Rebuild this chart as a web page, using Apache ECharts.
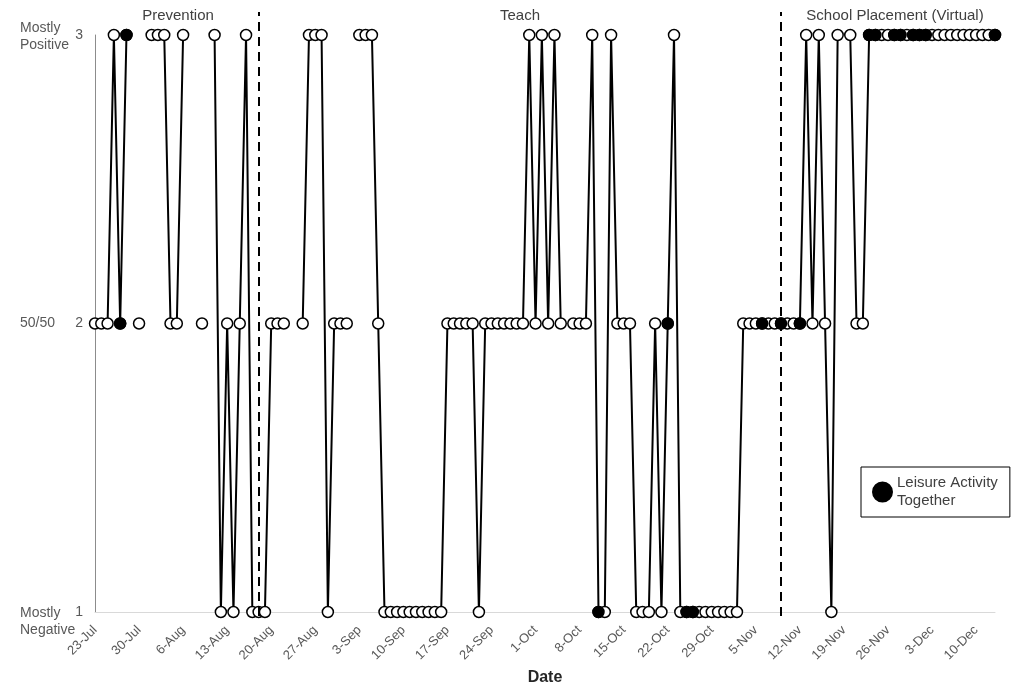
<!DOCTYPE html>
<html>
<head>
<meta charset="utf-8">
<script src="https://cdn.jsdelivr.net/npm/echarts@6/dist/echarts.min.js"></script>
<style>
  html, body { margin: 0; padding: 0; background: #fff; }
  #chart { width: 1024px; height: 691px; }
</style>
</head>
<body>
<div id="chart"></div>
<script>
// one entry per day from 23-Jul, 3 = mostly positive, 2 = 50/50, 1 = mostly negative, null = no entry
const ratings = [
  2, 2, 2, 3, 2, 3, null,          // 23-Jul
  2, null, 3, 3, 3, 2, 2,          // 30-Jul
  3, null, null, 2, null, 3, 1,    // 6-Aug
  2, 1, 2, 3, 1, 1, 1,             // 13-Aug
  2, 2, 2, null, null, 2, 3,       // 20-Aug
  3, 3, 1, 2, 2, 2, null,          // 27-Aug
  3, 3, 3, 2, 1, 1, 1,             // 3-Sep
  1, 1, 1, 1, 1, 1, 1,             // 10-Sep
  2, 2, 2, 2, 2, 1, 2,             // 17-Sep
  2, 2, 2, 2, 2, 2, 3,             // 24-Sep
  2, 3, 2, 3, 2, null, 2,          // 1-Oct
  2, 2, 3, 1, 1, 3, 2,             // 8-Oct
  2, 2, 1, 1, 1, 2, 1,             // 15-Oct
  2, 3, 1, 1, 1, 1, 1,             // 22-Oct
  1, 1, 1, 1, 1, 2, 2,             // 29-Oct
  2, 2, 2, 2, 2, 2, 2,             // 5-Nov
  2, 3, 2, 3, 2, 1, 3,             // 12-Nov
  null, 3, 2, 2, 3, 3, 3,          // 19-Nov
  3, 3, 3, 3, 3, 3, 3,             // 26-Nov
  3, 3, 3, 3, 3, 3, 3,             // 3-Dec
  3, 3, 3, 3                       // 10-Dec
];
// day indexes (from 23-Jul) with a leisure activity together
const leisureDays = [4, 5, 80, 91, 94, 95, 106, 109, 112, 123, 124, 127, 128, 130, 131, 132, 143];
// day indexes where a new phase starts
const phaseStarts = [26, 109];
const phaseNames = ['Prevention', 'Teach', 'School Placement (Virtual)'];
const phaseLabelX = [178, 520, 895];
const levelNames = {
  1: '{s1| }\n{p|Mostly}\n{p|Negative}',
  2: '{p|50/50}',
  3: '{s3| }\n{p|Mostly}\n{p|Positive}'
};

const monthNames = ['Jan', 'Feb', 'Mar', 'Apr', 'May', 'Jun', 'Jul', 'Aug', 'Sep', 'Oct', 'Nov', 'Dec'];
const days = ratings.map(function (v, i) {
  const d = new Date(2020, 6, 23 + i);
  return d.getDate() + '-' + monthNames[d.getMonth()];
});

const font = 'Liberation Sans, Arial, sans-serif';
const grey = '#595959';

const chart = echarts.init(document.getElementById('chart'));
chart.setOption({
  animation: false,
  title: phaseNames.map(function (name, i) {
    return {
      text: name,
      left: phaseLabelX[i],
      top: 8,
      padding: 0,
      textAlign: 'center',
      textStyle: { fontFamily: font, fontSize: 15, fontWeight: 'normal', color: '#404040' }
    };
  }),
  legend: {
    data: ['Leisure Activity\nTogether'],
    left: 861,
    top: 467,
    orient: 'vertical',
    borderColor: '#000',
    borderWidth: 1,
    borderRadius: 0,
    padding: [7, 12, 7, 11],
    itemWidth: 19,
    itemHeight: 19,
    icon: 'circle',
    textStyle: { fontFamily: font, fontSize: 15, color: '#404040', lineHeight: 18 }
  },
  grid: [
    { left: 95, right: 29, top: 35, bottom: 68 },
    { left: 95, right: 29, top: 12, bottom: 75 }
  ],
  xAxis: [
    {
      type: 'category',
      gridIndex: 0,
      data: days,
      boundaryGap: false,
      name: 'Date',
      nameLocation: 'middle',
      nameGap: 58,
      nameTextStyle: { fontFamily: font, fontSize: 16, fontWeight: 'bold', color: '#262626' },
      axisLine: { lineStyle: { color: '#d9d9d9', width: 1 } },
      axisTick: { show: false },
      axisLabel: {
        interval: 6,
        rotate: 45,
        margin: 16,
        fontFamily: font,
        fontSize: 13,
        color: grey
      },
      splitLine: { show: false }
    },
    {
      type: 'category',
      gridIndex: 1,
      data: days,
      boundaryGap: false,
      show: false
    }
  ],
  yAxis: [
    {
      type: 'value',
      gridIndex: 0,
      min: 1,
      max: 3,
      interval: 1,
      axisLine: { show: true, lineStyle: { color: '#8c8c8c', width: 1 } },
      axisTick: { show: false },
      splitLine: { show: false },
      axisLabel: { margin: 12, fontFamily: font, fontSize: 14, color: grey }
    },
    {
      type: 'value',
      gridIndex: 0,
      position: 'left',
      min: 1,
      max: 3,
      interval: 1,
      axisLine: { show: false },
      axisTick: { show: false },
      splitLine: { show: false },
      axisLabel: {
        margin: 75,
        align: 'left',
        formatter: function (v) { return levelNames[v] || ''; },
        rich: {
          p: { fontFamily: font, fontSize: 14, lineHeight: 17, color: grey },
          s1: { fontSize: 10, lineHeight: 20 },
          s3: { fontSize: 4, lineHeight: 4 }
        }
      }
    },
    {
      type: 'value',
      gridIndex: 1,
      min: 0,
      max: 1,
      show: false
    }
  ],
  series: [
    {
      name: 'Rating',
      type: 'line',
      xAxisIndex: 0,
      yAxisIndex: 0,
      data: ratings,
      connectNulls: false,
      symbol: 'circle',
      symbolSize: 11,
      showAllSymbol: true,
      lineStyle: { color: '#000', width: 2 },
      itemStyle: { color: '#fff', borderColor: '#000', borderWidth: 1.5 },
      z: 2
    },
    {
      name: 'Leisure Activity\nTogether',
      type: 'scatter',
      xAxisIndex: 0,
      yAxisIndex: 0,
      data: leisureDays.map(function (i) { return [i, ratings[i]]; }),
      symbol: 'circle',
      symbolSize: 11,
      itemStyle: { color: '#000', borderColor: '#000', borderWidth: 1.5, opacity: 1 },
      z: 3
    },
    {
      name: 'Phase change',
      type: 'line',
      xAxisIndex: 1,
      yAxisIndex: 2,
      data: [],
      markLine: {
        silent: true,
        symbol: ['none', 'none'],
        label: { show: false },
        lineStyle: { color: '#000', width: 2, type: [9, 6] },
        data: phaseStarts.map(function (i) { return { xAxis: days[i] }; })
      }
    }
  ]
});
</script>
</body>
</html>
